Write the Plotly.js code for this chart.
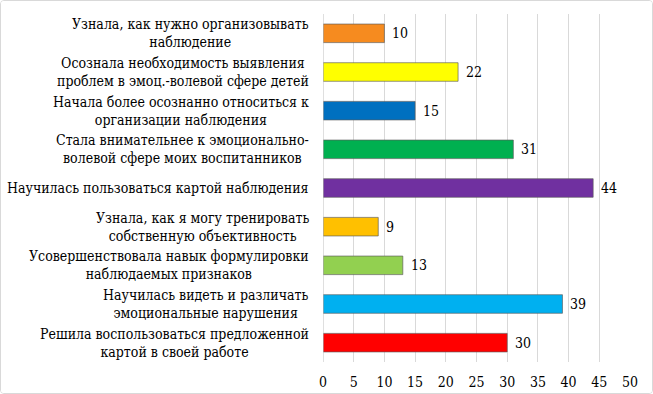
<!DOCTYPE html>
<html><head><meta charset="utf-8">
<script src="https://cdn.plot.ly/plotly-3.0.1.min.js"></script>
<style>
html,body{margin:0;padding:0;background:#fff;}
#wrap{width:651px;height:392px;border:1px solid #d9d9d9;border-radius:4px;overflow:hidden;}
#chart{width:651px;height:392px;}
</style></head>
<body><div id="wrap"><div id="chart"></div></div>
<script>
const categories = [
  "Узнала, как нужно организовывать<br>наблюдение",
  "Осознала необходимость выявления<br>проблем в эмоц.-волевой сфере детей",
  "Начала более осознанно относиться к<br>организации наблюдения",
  "Стала внимательнее к эмоционально-<br>волевой сфере моих воспитанников",
  "Научилась пользоваться картой наблюдения",
  "Узнала, как я могу тренировать<br>собственную объективность",
  "Усовершенствовала навык формулировки<br>наблюдаемых признаков",
  "Научилась видеть и различать<br>эмоциональные нарушения",
  "Решила воспользоваться предложенной<br>картой в своей работе"
];
const values = [10, 22, 15, 31, 44, 9, 13, 39, 30];
const colors = ["#F68B1F", "#FFFF00", "#0070C0", "#00B050", "#7030A0", "#FFC000", "#92D050", "#00B0F0", "#FF0000"];
const xTicks = [0, 5, 10, 15, 20, 25, 30, 35, 40, 45, 50];

const font = "DejaVu Serif Condensed";
const ids = categories.map((c, i) => "c" + i);

const trace = {
  type: "bar",
  orientation: "h",
  y: ids,
  x: values,
  marker: { color: colors, line: { color: "rgba(90,90,90,0.65)", width: 1 } },
  width: 0.48,
  hoverinfo: "none"
};

const annotations = [];
categories.forEach((c, i) => {
  annotations.push({
    xref: "paper", yref: "y", x: 0, y: ids[i], xanchor: "right", yanchor: "middle",
    xshift: -12, text: c, align: "center", showarrow: false,
    font: { family: font, size: 14, color: "#000" }
  });
  annotations.push({
    xref: "x", yref: "y", x: values[i], y: ids[i], xanchor: "left", yanchor: "middle",
    xshift: 6, text: String(values[i]), showarrow: false,
    font: { family: font, size: 14, color: "#000" }
  });
});

const layout = {
  width: 651, height: 392,
  margin: { l: 322, r: 22, t: 13, b: 31 },
  paper_bgcolor: "#fff", plot_bgcolor: "#fff",
  showlegend: false,
  font: { family: font, size: 14, color: "#000" },
  xaxis: {
    range: [0, 50], tickvals: xTicks, ticktext: xTicks.map(String),
    showgrid: true, gridcolor: "#d9d9d9", gridwidth: 1,
    zeroline: false, showline: false, ticks: "", ticklabelstandoff: 10,
    tickfont: { family: font, size: 14, color: "#000" }, fixedrange: true
  },
  yaxis: {
    type: "category", autorange: "reversed", showticklabels: false,
    showgrid: false, zeroline: false, showline: false, ticks: "", fixedrange: true
  },
  shapes: [{ type: "line", xref: "x", yref: "paper", x0: 0, x1: 0, y0: 0, y1: 1,
             line: { color: "#bfbfbf", width: 1 } }],
  annotations: annotations
};

Plotly.newPlot("chart", [trace], layout, { displayModeBar: false, staticPlot: true });
</script></body></html>
